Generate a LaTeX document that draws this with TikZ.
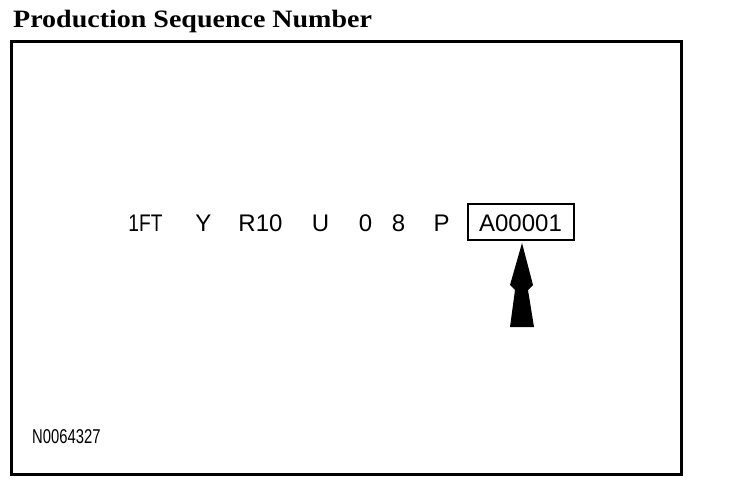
\documentclass[tikz,border=0pt]{standalone}
\usepackage{fontspec}
\setmainfont{Liberation Serif}
\newfontfamily\arialf{Liberation Sans}
\begin{document}
\begin{tikzpicture}[x=1pt,y=-1pt,
  tok/.style={inner sep=0pt, anchor=base, font=\arialf\fontsize{24}{24}\selectfont},
  lbl/.style={inner sep=0pt, anchor=base west}]
\useasboundingbox (0,0) rectangle (736,494);
% title
\node[lbl] (title) at (13,28) {\scalebox{1.12}[1]{\bfseries\fontsize{25}{25}\selectfont Production Sequence Number}};
% frame
\draw[line width=3pt] (11.5,41.5) rectangle (681.5,474) node[pos=0, anchor=north west, inner sep=0pt] (frame) {};
% tokens
\node[tok] (t1) at (145.5,232) {\scalebox{0.8}[1]{1FT}};
\node[tok] (t2) at (203.5,232) {Y};
\node[tok] (t3) at (260.5,232) {R10};
\node[tok] (t4) at (320.5,232) {U};
\node[tok] (t5) at (365.5,232) {0};
\node[tok] (t6) at (398.5,232) {8};
\node[tok] (t7) at (441.5,232) {P};
\node[tok] (t8) at (520.5,231.5) {A00001};
\node[draw, line width=2pt, minimum width=106pt, minimum height=36pt, inner sep=0pt] (box) at (521,222) {};
% arrow
\coordinate (tip) at (522,243);
\fill (tip) -- (533,285) -- (528,290) -- (534,327) -- (510,327) -- (515,290) -- (510,285) -- cycle;
% figure code
\node[lbl] (code) at (32,443) {\scalebox{0.74}[1]{\arialf\fontsize{20}{20}\selectfont N0064327}};
\end{tikzpicture}
\end{document}
